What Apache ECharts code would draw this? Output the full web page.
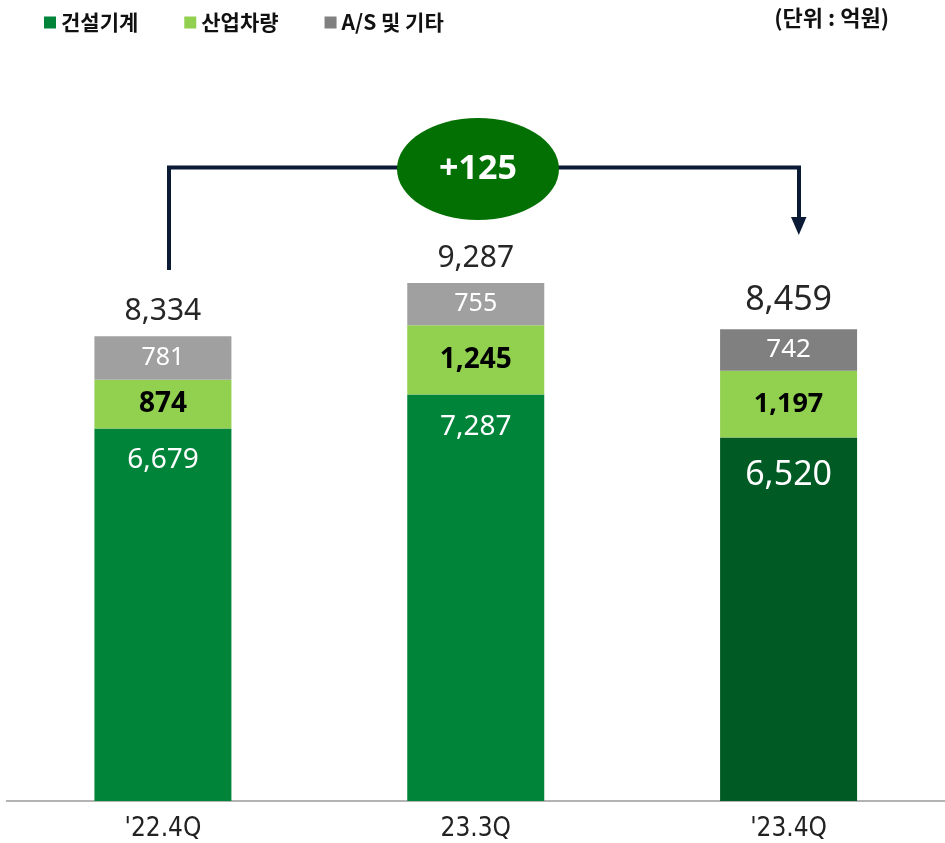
<!DOCTYPE html>
<html>
<head>
<meta charset="utf-8">
<script src="https://cdn.jsdelivr.net/npm/echarts@6/dist/echarts.min.js"></script>
<style>
html,body{margin:0;padding:0;background:#fff;}
#report_box{width:945px;height:843px;}
</style>
</head>
<body>
<div id="report_box"></div>
<script>
// 분기별 매출 (단위 : 억원)
var quarter = ["'22.4Q", "23.3Q", "'23.4Q"];
var seriesName = ['건설기계', '산업차량', 'A/S 및 기타'];
var construction = [6679, 7287, 6520];
var industrial = [874, 1245, 1197];
var asEtc = [781, 755, 742];

var numFont = "'Noto Sans', 'Noto Sans CJK KR', sans-serif";
var krFont = "'Noto Sans CJK KR', 'Noto Sans', sans-serif";

function fmt(v){
	return v.toString().replace(/\B(?=(\d{3})+(?!\d))/g, ',');
}

var totals = [];
for(var i=0;i<quarter.length;i++){
	totals[i] = construction[i] + industrial[i] + asEtc[i];
}

// 마지막 분기 막대는 색/글자 크기가 다름
function makeData(values, colors, labels){
	var arr = [];
	for(var i=0;i<values.length;i++){
		arr.push({value:values[i], itemStyle:{color:colors[i]}, label:labels[i]});
	}
	return arr;
}

function init(){
	var myChart = echarts.init(document.getElementById('report_box'));
	var option = {
		animation:false,
		legend:{
			left:39,
			top:7,
			itemWidth:12,
			itemHeight:12,
			itemGap:46,
			icon:'rect',
			textStyle:{fontFamily:krFont, fontSize:21, fontWeight:'bold', color:'#111'},
			data:[
				{name:seriesName[0], itemStyle:{color:'#00843A'}},
				{name:seriesName[1], itemStyle:{color:'#92D050'}},
				{name:seriesName[2], itemStyle:{color:'#808080'}}
			]
		},
		grid:{left:6.5, width:942, top:76, bottom:42},
		xAxis:{
			type:'category',
			data:quarter,
			axisLine:{lineStyle:{color:'#9a9a9a', width:1.5}},
			axisTick:{show:false},
			axisLabel:{margin:15, fontSize:26, color:'#222', fontFamily:"'Liberation Sans Narrow', 'DejaVu Sans Condensed', sans-serif"}
		},
		yAxis:{type:'value', min:0, max:13000, show:false},
		series:[
			{
				name:seriesName[0], type:'bar', stack:'sum', barWidth:137,
				data:makeData(construction, ['#00843A','#00843A','#005A24'], [{}, {}, {fontSize:34, distance:21}]),
				label:{show:true, position:'insideTop', distance:18, color:'#fff', fontSize:28, fontFamily:numFont,
					formatter:function(p){return fmt(p.value);}}
			},
			{
				name:seriesName[1], type:'bar', stack:'sum', barWidth:137,
				data:makeData(industrial, ['#92D050','#92D050','#92D050'], [{}, {}, {fontSize:27}]),
				label:{show:true, position:'inside', color:'#000', fontSize:28, fontWeight:'bold', fontFamily:numFont,
					formatter:function(p){return fmt(p.value);}}
			},
			{
				name:seriesName[2], type:'bar', stack:'sum', barWidth:137,
				data:makeData(asEtc, ['#A0A0A0','#A0A0A0','#808080'], [{}, {}, {fontSize:26}]),
				label:{show:true, position:'inside', color:'#fff', fontSize:25, fontFamily:numFont,
					formatter:function(p){return fmt(p.value);}}
			},
			{
				// 합계 라벨
				name:'합계', type:'line', data:makeData(totals, ['rgba(0,0,0,0)','rgba(0,0,0,0)','rgba(0,0,0,0)'], [{}, {}, {fontSize:34, distance:11}]),
				symbol:'circle', symbolSize:1, lineStyle:{opacity:0}, silent:true,
				label:{show:true, position:'top', distance:9, color:'#262626', fontSize:30, fontFamily:numFont,
					formatter:function(p){return fmt(p.value);}}
			}
		],
		graphic:[
			{type:'text', right:56, top:7, style:{text:'(단위 : 억원)', font:'bold 22px ' + krFont, fill:'#111'}},
			{type:'polyline', shape:{points:[[169,270],[169,167.5],[799,167.5],[799,219]]}, style:{stroke:'#0B1A35', lineWidth:4, fill:null}},
			{type:'polygon', shape:{points:[[791,217],[806.5,217],[798.8,235]]}, style:{fill:'#0B1A35'}},
			{type:'ellipse', shape:{cx:478, cy:169, rx:81, ry:51}, style:{fill:'#037003'}},
			{type:'text', x:478, y:169, style:{text:'+' + fmt(totals[2]-totals[0]), font:'bold 34px ' + numFont, fill:'#fff', align:'center', verticalAlign:'middle'}}
		]
	};
	myChart.setOption(option);
}
init();
</script>
</body>
</html>
